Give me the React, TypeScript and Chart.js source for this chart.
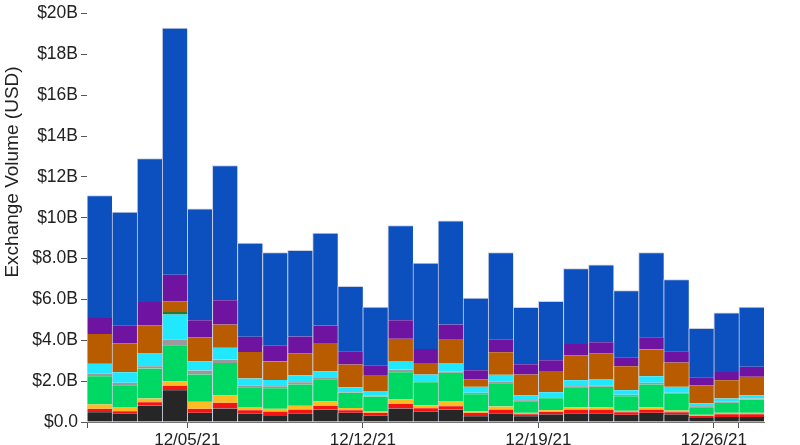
import React, { useEffect, useRef } from "react";
import { Chart, registerables } from "chart.js";

Chart.register(...registerables);

const categories = [
  "12/01/21", "12/02/21", "12/03/21", "12/04/21", "12/05/21", "12/06/21", "12/07/21",
  "12/08/21", "12/09/21", "12/10/21", "12/11/21", "12/12/21", "12/13/21", "12/14/21",
  "12/15/21", "12/16/21", "12/17/21", "12/18/21", "12/19/21", "12/20/21", "12/21/21",
  "12/22/21", "12/23/21", "12/24/21", "12/25/21", "12/26/21", "12/27/21",
];

const xTickValues = [0, 4, 11, 18, 25, 26];
const xTickLabels = ["", "12/05/21", "12/12/21", "12/19/21", "12/26/21", ""];

// values in billions of USD
const black = [0.48, 0.42, 0.81, 1.55, 0.45, 0.66, 0.40, 0.33, 0.42, 0.61, 0.45, 0.30, 0.66, 0.50, 0.61, 0.28, 0.42, 0.28, 0.37, 0.42, 0.42, 0.35, 0.45, 0.37, 0.23, 0.25, 0.25];
const red = [0.17, 0.11, 0.16, 0.23, 0.20, 0.28, 0.18, 0.18, 0.19, 0.18, 0.13, 0.15, 0.23, 0.17, 0.16, 0.17, 0.19, 0.10, 0.13, 0.19, 0.19, 0.13, 0.16, 0.11, 0.07, 0.13, 0.13];
const yellow = [0.21, 0.21, 0.18, 0.21, 0.34, 0.36, 0.16, 0.14, 0.18, 0.23, 0.11, 0.06, 0.22, 0.15, 0.23, 0.08, 0.15, 0.07, 0.08, 0.10, 0.10, 0.07, 0.10, 0.08, 0.05, 0.07, 0.07];
const green = [1.38, 1.06, 1.47, 1.77, 1.33, 1.59, 0.96, 1.00, 1.04, 1.07, 0.74, 0.74, 1.33, 1.13, 1.41, 0.83, 1.14, 0.57, 0.58, 0.99, 1.01, 0.71, 1.12, 0.82, 0.37, 0.49, 0.65];
const gray = [0.12, 0.12, 0.11, 0.27, 0.20, 0.17, 0.08, 0.10, 0.12, 0.07, 0.03, 0.05, 0.13, 0.05, 0.06, 0.07, 0.08, 0.05, 0.05, 0.05, 0.06, 0.07, 0.09, 0.05, 0.05, 0.05, 0.05];
const cyan = [0.49, 0.52, 0.62, 1.23, 0.45, 0.57, 0.35, 0.31, 0.34, 0.32, 0.24, 0.19, 0.42, 0.32, 0.42, 0.29, 0.33, 0.23, 0.25, 0.29, 0.33, 0.23, 0.32, 0.29, 0.15, 0.16, 0.16];
const darkGreen = [0, 0, 0, 0.13, 0, 0, 0, 0, 0, 0, 0, 0, 0, 0, 0, 0, 0, 0, 0, 0, 0, 0, 0, 0, 0, 0, 0];
const brown = [1.46, 1.40, 1.37, 0.52, 1.18, 1.14, 1.30, 0.90, 1.07, 1.39, 1.11, 0.78, 1.08, 0.57, 1.14, 0.37, 1.10, 1.02, 1.04, 1.21, 1.25, 1.17, 1.31, 1.19, 0.88, 0.89, 0.91];
const purple = [0.78, 0.90, 1.16, 1.30, 0.83, 1.19, 0.74, 0.77, 0.82, 0.86, 0.65, 0.49, 0.91, 0.69, 0.74, 0.44, 0.62, 0.51, 0.52, 0.57, 0.54, 0.44, 0.60, 0.55, 0.39, 0.41, 0.48];
const blue = [5.99, 5.54, 7.02, 12.08, 5.46, 6.60, 4.59, 4.56, 4.22, 4.52, 3.18, 2.87, 4.64, 4.20, 5.08, 3.54, 4.27, 2.78, 2.89, 3.69, 3.79, 3.26, 4.15, 3.51, 2.40, 2.89, 2.93];

const seriesNames = ["Black", "Red", "Yellow", "Green", "Gray", "Cyan", "Dark green", "Brown", "Purple", "Blue"];
const seriesValues = [black, red, yellow, green, gray, cyan, darkGreen, brown, purple, blue];
const seriesColors = ["#262626", "#f41414", "#fdbd22", "#00d864", "#9a9a9a", "#22e8ff", "#1e7b3c", "#b95c00", "#6f14a0", "#0c4fbf"];

const FONT = "'Liberation Sans', Arial, Helvetica, sans-serif";

function fmtY(v: number): string {
  if (v === 0) return "$0.0";
  if (v >= 10) return "$" + Math.round(v) + "B";
  return "$" + v.toFixed(1) + "B";
}

export default function App() {
  const ref = useRef<HTMLCanvasElement>(null);

  useEffect(() => {
    if (!ref.current) return;
    const titlePlugin = {
      id: "yTitle",
      afterDraw(chart: any) {
        const ctx = chart.ctx;
        ctx.save();
        ctx.translate(13, 172);
        ctx.rotate(-Math.PI / 2);
        ctx.font = "19px " + FONT;
        ctx.fillStyle = "#222";
        ctx.textAlign = "center";
        ctx.textBaseline = "middle";
        ctx.fillText("Exchange Volume (USD)", 0, 0);
        ctx.restore();
      },
    };

    const datasets = seriesValues.map((vals, si) => ({
      label: seriesNames[si],
      data: vals.map((v, i) => ({ x: i + 0.5, y: v, date: categories[i] })),
      backgroundColor: seriesColors[si],
      borderColor: "#c9cfe0",
      borderWidth: si === seriesValues.length - 1 ? { left: 1, top: 1, right: 0, bottom: 0 } : { left: 1, top: 0, right: 0, bottom: 0 },
      borderSkipped: false as any,
      barPercentage: 1,
      categoryPercentage: 1,
    }));

    const chart = new Chart(ref.current, {
      type: "bar",
      data: { datasets },
      options: {
        responsive: false,
        animation: false,
        layout: { padding: { top: 13, right: 36, left: 0, bottom: 0 } },
        plugins: { legend: { display: false }, tooltip: { enabled: false } },
        scales: {
          x: {
            type: "linear",
            min: 0,
            max: 27,
            stacked: true,
            offset: false,
            afterBuildTicks: (s: any) => {
              s.ticks = xTickValues.map((v) => ({ value: v }));
            },
            afterFit: (s: any) => {
              s.height = 23;
            },
            ticks: {
              autoSkip: false,
              maxRotation: 0,
              padding: 2,
              color: "#222",
              font: { family: FONT, size: 17 },
              callback: (_v: any, i: number) => xTickLabels[i],
            },
            grid: { drawOnChartArea: false, offset: false, tickLength: 6, tickColor: "#555", color: "#555" },
            border: { display: true, color: "#777" },
          },
          y: {
            stacked: true,
            min: 0,
            max: 20,
            afterBuildTicks: (s: any) => {
              const t = [];
              for (let v = 0; v <= 20; v += 2) t.push({ value: v });
              s.ticks = t;
            },
            afterFit: (s: any) => {
              s.width = 87;
            },
            ticks: {
              padding: 3,
              color: "#222",
              font: { family: FONT, size: 17.5 },
              callback: (v: any) => fmtY(Number(v)),
            },
            grid: { drawOnChartArea: false, tickLength: 6, tickColor: "#555" },
            border: { display: false },
          },
        },
      },
      plugins: [titlePlugin],
    });
    return () => chart.destroy();
  }, []);

  return (
    <div style={{ position: "fixed", left: 0, top: 0, width: 800, height: 445, background: "#fff" }}>
      <canvas ref={ref} width={800} height={445} style={{ display: "block" }} />
    </div>
  );
}
